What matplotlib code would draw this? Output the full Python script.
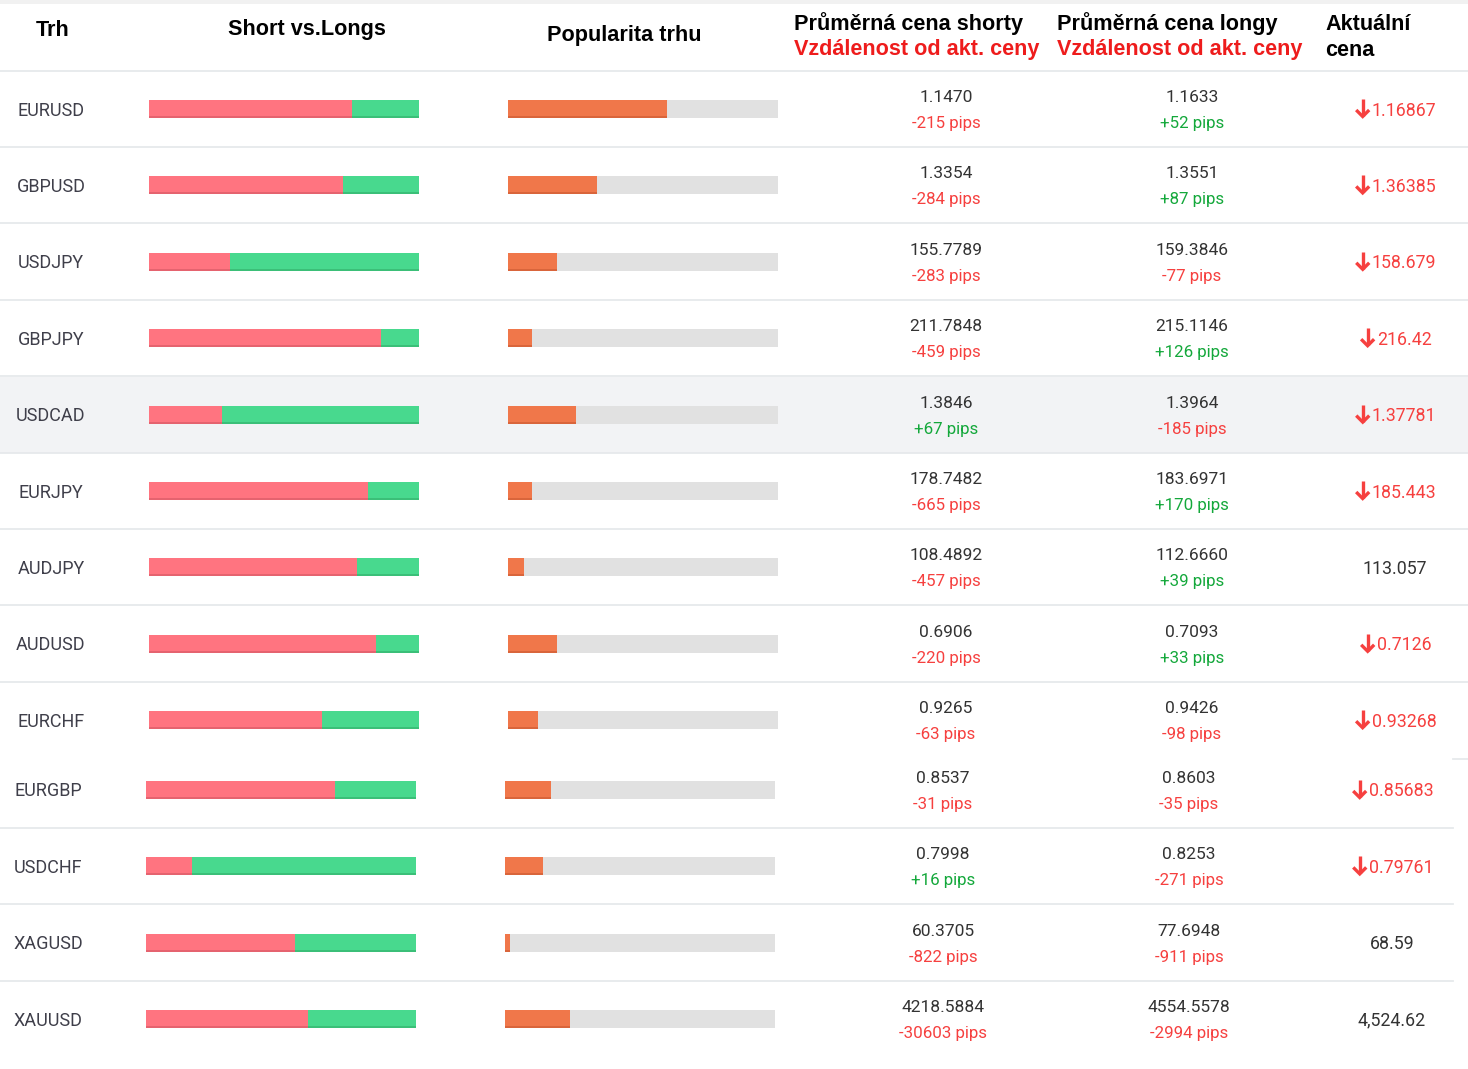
import matplotlib
matplotlib.use("Agg")
import matplotlib.pyplot as plt
from matplotlib.patches import Rectangle

# ---------------- data ----------------
pairs = ["EURUSD", "GBPUSD", "USDJPY", "GBPJPY", "USDCAD", "EURJPY", "AUDJPY",
         "AUDUSD", "EURCHF", "EURGBP", "USDCHF", "XAGUSD", "XAUUSD"]
short_pct = [75, 72, 30, 86, 27, 81, 77, 84, 64, 70, 17, 55, 60]
popularity_pct = [59, 33, 18, 9, 25, 9, 6, 18, 11, 17, 14, 2, 24]
avg_short = ["1.1470", "1.3354", "155.7789", "211.7848", "1.3846", "178.7482", "108.4892",
             "0.6906", "0.9265", "0.8537", "0.7998", "60.3705", "4218.5884"]
short_pips = [-215, -284, -283, -459, 67, -665, -457, -220, -63, -31, 16, -822, -30603]
avg_long = ["1.1633", "1.3551", "159.3846", "215.1146", "1.3964", "183.6971", "112.6660",
            "0.7093", "0.9426", "0.8603", "0.8253", "77.6948", "4554.5578"]
long_pips = [52, 87, -77, 126, -185, 170, 39, 33, -98, -35, -271, -911, -2994]
current = ["1.16867", "1.36385", "158.679", "216.42", "1.37781", "185.443", "113.057",
           "0.7126", "0.93268", "0.85683", "0.79761", "68.59", "4,524.62"]
falling = [True, True, True, True, True, True, False, True, True, True, True, False, False]

headers = ["Trh", "Short vs.Longs", "Popularita trhu"]
hdr_short = ("Průměrná cena shorty", "Vzdálenost od akt. ceny")
hdr_long = ("Průměrná cena longy", "Vzdálenost od akt. ceny")
hdr_cur = ("Aktuální", "cena")

# ---------------- style ----------------
W, H = 1468, 1069
RED_BAR = "#ff7480"
GREEN_BAR = "#48d98e"
ORANGE = "#f0774a"
GREY_BAR = "#e1e1e1"
RED_TXT = "#f6403f"
GREEN_TXT = "#14a83b"
HDR_RED = "#ee1c1c"
LINE = "#e6e9ec"
NUM = ["Roboto", "DejaVu Sans"]
HDR = ["Liberation Sans", "DejaVu Sans"]
HFS = 15.6
TY = 1.5   # small vertical nudge for text

fig = plt.figure(figsize=(W / 100, H / 100), dpi=100)
ax = fig.add_axes([0, 0, 1, 1])
ax.set_xlim(0, W)
ax.set_ylim(H, 0)
ax.axis("off")

# thin grey strip at very top
ax.add_patch(Rectangle((0, 0), W, 4, color="#f1f1f1", lw=0))

# header
ax.text(53, 30, headers[0], ha="center", va="center", fontsize=HFS, fontweight="bold", family=HDR)
ax.text(307, 30, headers[1], ha="center", va="center", fontsize=HFS, fontweight="bold", family=HDR)
ax.text(624, 36, headers[2], ha="center", va="center", fontsize=HFS, fontweight="bold", family=HDR)
for x0, (a, b) in [(794, hdr_short), (1057, hdr_long)]:
    ax.text(x0, 24, a, ha="left", va="center", fontsize=HFS, fontweight="bold", family=HDR)
    ax.text(x0, 50, b, ha="left", va="center", fontsize=HFS, fontweight="bold", family=HDR, color=HDR_RED)
ax.text(1325, 24, hdr_cur[0], ha="left", va="center", fontsize=HFS, fontweight="bold", family=HDR)
ax.text(1325, 50, hdr_cur[1], ha="left", va="center", fontsize=HFS, fontweight="bold", family=HDR)
ax.plot([0, W], [71, 71], color=LINE, lw=1.3)

# row layout: first 9 rows from one capture, last 4 from a second (slightly shifted)
STEP = 76.4
rows_y, rows_dx, rows_right = [], [], []
for i in range(len(pairs)):
    if i < 9:
        rows_y.append(109 + i * STEP)
        rows_dx.append(0)
        rows_right.append(W)
    else:
        rows_y.append(790 + (i - 9) * STEP)
        rows_dx.append(-3)
        rows_right.append(1453)

# highlighted row
ax.add_patch(Rectangle((0, 376.5), W, 76.5, color="#f2f3f5", lw=0, zorder=0))

BAR_H = 18
SL_X, POP_X, BAR_W = 149, 508, 270

for i, p in enumerate(pairs):
    y = rows_y[i]
    dx = rows_dx[i]
    # separators
    if i < 8:
        ax.plot([0, W], [y + 38, y + 38], color=LINE, lw=1.3)
    elif i == 8:
        ax.plot([1453, W], [y + 39, y + 39], color=LINE, lw=1.3)
    elif i < 12:
        ax.plot([0, rows_right[i]], [y + 38, y + 38], color=LINE, lw=1.3)

    ax.text(51 + dx, y + TY, p, ha="center", va="center", fontsize=13, color="#3f3f4a", family=NUM)

    # short vs long bar
    s = short_pct[i] / 100
    ax.barh(y, BAR_W * s, left=SL_X + dx, height=BAR_H, color=RED_BAR, lw=0)
    ax.barh(y, BAR_W * (1 - s), left=SL_X + dx + BAR_W * s, height=BAR_H, color=GREEN_BAR, lw=0)
    ax.barh(y + BAR_H / 2 - 1, BAR_W * s, left=SL_X + dx, height=2, color="#e5636f", lw=0)
    ax.barh(y + BAR_H / 2 - 1, BAR_W * (1 - s), left=SL_X + dx + BAR_W * s, height=2, color="#3bbf78", lw=0)

    # popularity bar
    q = popularity_pct[i] / 100
    ax.barh(y, BAR_W, left=POP_X + dx, height=BAR_H, color=GREY_BAR, lw=0)
    ax.barh(y, BAR_W * q, left=POP_X + dx, height=BAR_H, color=ORANGE, lw=0)
    ax.barh(y + BAR_H / 2 - 1, BAR_W * q, left=POP_X + dx, height=2, color="#d9653b", lw=0)

    # average prices + pips
    for xc, price, pips in [(946 + dx, avg_short[i], short_pips[i]),
                            (1192 + dx, avg_long[i], long_pips[i])]:
        ax.text(xc, y - 13 + TY, price, ha="center", va="center", fontsize=12.5, color="#333333", family=NUM)
        col = GREEN_TXT if pips > 0 else RED_TXT
        lab = f"+{pips} pips" if pips > 0 else f"{pips} pips"
        ax.text(xc, y + 13 + TY, lab, ha="center", va="center", fontsize=12.2, color=col, family=NUM)

    # current price
    xc = 1395 + dx
    if falling[i]:
        t = ax.text(xc + 9, y + TY, current[i], ha="center", va="center", fontsize=12.8,
                    color=RED_TXT, family=NUM)
        fig.canvas.draw()
        bb = t.get_window_extent(renderer=fig.canvas.get_renderer())
        xl = ax.transData.inverted().transform((bb.x0, 0))[0]
        ax_x = xl - 9
        ax.plot([ax_x, ax_x], [y - 10, y + 7], color=RED_TXT, lw=2.4, solid_capstyle="butt")
        ax.plot([ax_x - 6.5, ax_x, ax_x + 6.5], [y + 1, y + 7.5, y + 1], color=RED_TXT,
                lw=2.4, solid_capstyle="butt", solid_joinstyle="miter")
    else:
        ax.text(xc, y + TY, current[i], ha="center", va="center", fontsize=12.8, color="#333333", family=NUM)

fig.savefig("out.png", dpi=100, facecolor="white")
